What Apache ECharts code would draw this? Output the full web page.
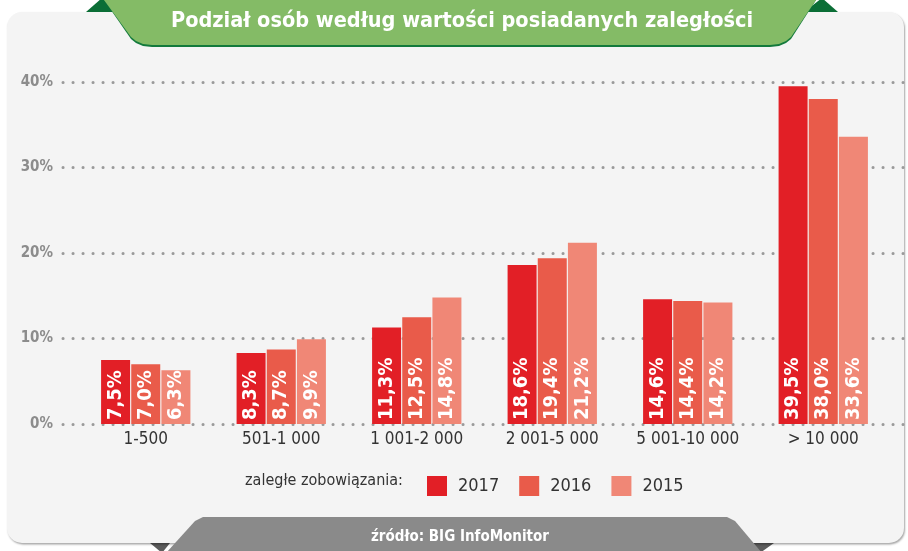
<!DOCTYPE html>
<html>
<head>
<meta charset="utf-8">
<script src="https://cdn.jsdelivr.net/npm/echarts@6/dist/echarts.min.js"></script>
<style>
  html, body { margin: 0; padding: 0; background: #fff; }
  #chart { width: 908px; height: 551px; }
</style>
</head>
<body>
<div id="chart"></div>
<script>
// kategorie wartości zaległości
const categories = ['1-500', '501-1 000', '1 001-2 000', '2 001-5 000', '5 001-10 000', '> 10 000'];
const years = ['2017', '2016', '2015'];
// udział osób w %
const values2017 = [7.5, 8.3, 11.3, 18.6, 14.6, 39.5];
const values2016 = [7.0, 8.7, 12.5, 19.4, 14.4, 38.0];
const values2015 = [6.3, 9.9, 14.8, 21.2, 14.2, 33.6];
const yTicks = [0, 10, 20, 30, 40];

const COLORS = ['#e21f26', '#e95b4a', '#f08776'];
const COND = "'DejaVu Sans Condensed', 'Liberation Sans Narrow', sans-serif";

const fmtPct = v => v.toFixed(1).replace('.', ',') + '%';

const seriesData = [values2017, values2016, values2015];

const chart = echarts.init(document.getElementById('chart'));

const option = {
  animation: false,
  color: COLORS,
  graphic: [
    // ciemnozielone trójkąty za banerem
    { type: 'polygon', z: -20, shape: { points: [[86, 12], [102, -2], [118, 12]] }, style: { fill: '#0b6e36' } },
    { type: 'polygon', z: -20, shape: { points: [[804, 12], [822, -2], [838, 12]] }, style: { fill: '#0b6e36' } },
    // ciemnoszare trójkąty pod stopką
    { type: 'polygon', z: -20, shape: { points: [[150, 543], [170, 543], [162, 553]] }, style: { fill: '#5c5c5c' } },
    { type: 'polygon', z: -20, shape: { points: [[752, 543], [774, 543], [760, 553]] }, style: { fill: '#5c5c5c' } },
    // panel tła
    {
      type: 'rect', z: -15,
      shape: { x: 7, y: 12, width: 897, height: 531, r: 15 },
      style: { fill: '#f4f4f4', shadowColor: 'rgba(0,0,0,0.35)', shadowBlur: 2, shadowOffsetX: 1, shadowOffsetY: 1.5 }
    },
    // baner tytułu
    {
      type: 'polygon', z: -10,
      shape: { points: [[104, 0], [816, 0], [791, 39], [786, 43], [779, 46], [770, 47], [152, 47], [143, 46], [136, 43], [131, 39]] },
      style: { fill: '#137a3c' }
    },
    {
      type: 'polygon', z: -9,
      shape: { points: [[104, 0], [816, 0], [791, 37], [786, 41], [779, 44], [770, 45], [152, 45], [143, 44], [136, 41], [131, 37]] },
      style: { fill: '#84bb66' }
    },
    {
      type: 'text', z: 10, x: 462, y: 21,
      style: {
        text: 'Podział osób według wartości posiadanych zaległości',
        fill: '#fff', font: 'bold 21.5px ' + COND, textAlign: 'center', textVerticalAlign: 'middle'
      }
    },
    // stopka ze źródłem
    {
      type: 'polygon', z: -5,
      shape: { points: [[166, 553], [195, 521], [203, 517], [727, 517], [735, 521], [762, 553]] },
      style: { fill: '#8a8a8a' }
    },
    {
      type: 'text', z: 10, x: 460, y: 537,
      style: {
        text: 'źródło: BIG InfoMonitor',
        fill: '#fff', font: 'bold 15px ' + COND, textAlign: 'center', textVerticalAlign: 'middle'
      }
    },
    // opis legendy
    {
      type: 'text', z: 10, x: 245, y: 481,
      style: {
        text: 'zaległe zobowiązania:',
        fill: '#333', font: '16px ' + COND, textVerticalAlign: 'middle'
      }
    }
  ],
  legend: {
    data: years,
    left: 422,
    top: 471,
    itemWidth: 20,
    itemHeight: 20,
    itemGap: 20,
    icon: 'rect',
    textStyle: { fontSize: 18, fontFamily: COND, color: '#333', padding: [0, 0, 0, 6] }
  },
  grid: [
    // siatka z kropkowanymi liniami
    { left: 63, right: 3, top: 82, bottom: 127 },
    // siatka słupków
    { left: 78, right: 17, top: 82, bottom: 127 }
  ],
  xAxis: [
    { type: 'value', gridIndex: 0, show: false, min: 0, max: 1 },
    {
      type: 'category', gridIndex: 1, data: categories,
      axisLine: { show: false }, axisTick: { show: false },
      axisLabel: { margin: 7, fontSize: 17, fontFamily: COND, color: '#333' }
    }
  ],
  yAxis: [
    {
      type: 'value', gridIndex: 0, min: 0, max: 40, interval: 10,
      axisLine: { show: false }, axisTick: { show: false },
      axisLabel: {
        margin: 10, fontSize: 15, fontWeight: 'bold', fontFamily: COND, color: '#8c8c8c',
        formatter: v => (yTicks.indexOf(v) >= 0 ? v + '%' : '')
      },
      splitLine: { lineStyle: { color: '#9a9a9a', width: 3, type: [0.1, 9.9], cap: 'round' } }
    },
    {
      type: 'value', gridIndex: 1, min: 0, max: 40, interval: 10, show: false,
      splitLine: { show: false }
    }
  ],
  series: years.map((year, i) => ({
    name: year,
    type: 'bar',
    xAxisIndex: 1,
    yAxisIndex: 1,
    barWidth: 29,
    barGap: '4%',
    data: seriesData[i],
    label: {
      show: true,
      position: 'insideBottom',
      rotate: 90,
      align: 'left',
      verticalAlign: 'middle',
      distance: 4,
      color: '#fff',
      fontFamily: COND,
      fontWeight: 'bold',
      fontSize: 20,
      formatter: p => fmtPct(p.value)
    }
  }))
};

chart.setOption(option);
</script>
</body>
</html>
